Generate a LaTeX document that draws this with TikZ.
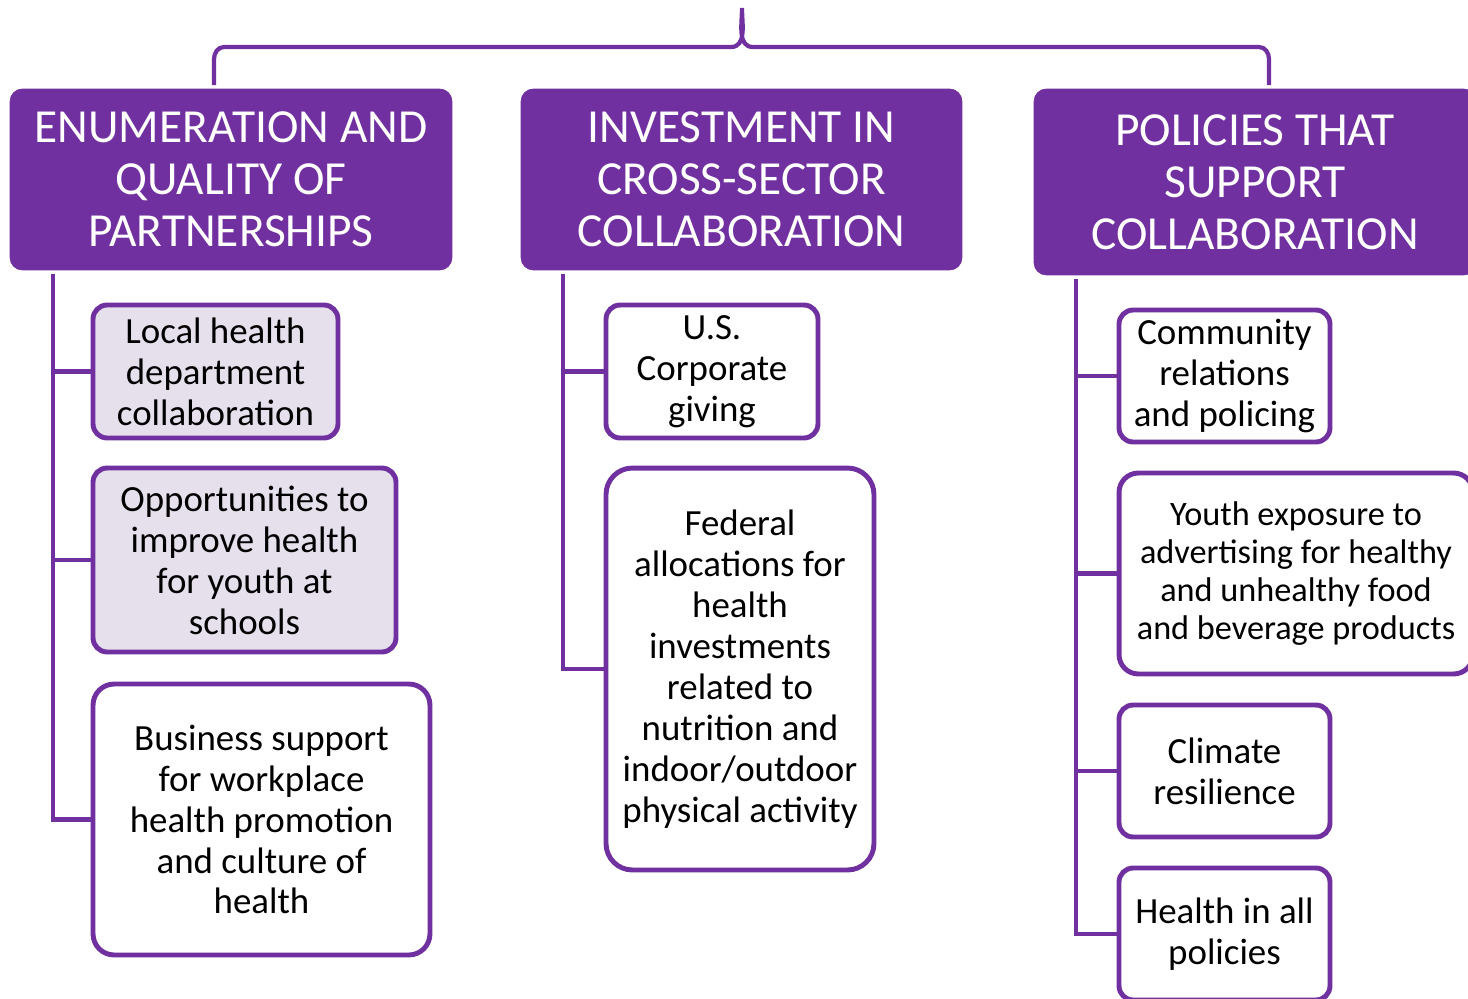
\documentclass[tikz,border=0pt]{standalone}
\usepackage{fontspec}
\setmainfont{Carlito}
\definecolor{grape}{HTML}{7030A0}
\definecolor{lilac}{HTML}{E6E0EC}

\begin{document}
\begin{tikzpicture}[
            x=0.02cm, y=-0.02cm,
            header/.style={draw=grape, fill=grape, text=white, rounded corners=7pt, align=center, inner sep=0pt, font=\fontsize{27}{29.6}\selectfont},
            item/.style={draw=grape, line width=2.8pt, fill=white, rounded corners=8pt, align=center, inner sep=0pt, font=\fontsize{21}{23.3}\selectfont},
            shaded/.style={item, fill=lilac},
            link/.style={draw=grape, line width=2.8pt}
        ]
        \useasboundingbox (0,0) rectangle (1468,998);
        \clip (0,0) rectangle (1468,998);

        % Headers
        \node[header, minimum width=8.84cm, minimum height=3.62cm] (enum) at (231,179.5) {ENUMERATION AND\\QUALITY OF\\PARTNERSHIPS};
        \node[header, minimum width=8.82cm, minimum height=3.62cm] (invest) at (741.5,179.5) {INVESTMENT IN\\CROSS-SECTOR\\COLLABORATION};
        \node[header, minimum width=8.84cm, minimum height=3.72cm] (policy) at (1255,182) {POLICIES THAT\\SUPPORT\\COLLABORATION};

        % Brace over the headers
        \coordinate (braceL) at (214,85);
        \coordinate (braceTip) at (742,8);
        \coordinate (braceR) at (1269,85);
        \draw[link, line width=2.4pt] (braceL) -- ++(0,-26) to[out=90, in=180] ++(10,-12) -- (731,47)
            to[out=0, in=-90] (braceTip) to[out=-90, in=180] (753,47) -- (1259,47)
            to[out=0, in=90] (1269,59) -- (braceR);

        % First column
        \node[shaded, minimum width=4.9cm, minimum height=2.66cm] (lhd) at (215.5,371.5) {Local health\\department\\collaboration};
        \node[shaded, minimum width=6.06cm, minimum height=3.68cm] (school) at (244.5,560) {Opportunities to\\improve health\\for youth at\\schools};
        \node[item, minimum width=6.74cm, minimum height=5.42cm, rounded corners=12pt] (biz) at (261.5,819.5) {Business support\\for workplace\\health promotion\\and culture of\\health};

        \coordinate (enumTrunk) at (53,274);
        \draw[link] (enumTrunk) |- (lhd.west);
        \draw[link] (enumTrunk) |- (school.west);
        \draw[link] (enumTrunk) |- (biz.west);

        % Second column
        \node[item, minimum width=4.24cm, minimum height=2.66cm] (corp) at (712,371.5) {U.S.\\Corporate\\giving};
        \node[item, minimum width=5.36cm, minimum height=8.04cm, rounded corners=15pt] (federal) at (740,669) {Federal\\allocations for\\health\\investments\\related to\\nutrition and\\indoor/outdoor\\physical activity};

        \coordinate (investTrunk) at (563,274);
        \draw[link] (investTrunk) |- (corp.west);
        \draw[link] (investTrunk) |- (federal.west);

        % Third column
        \node[item, minimum width=4.22cm, minimum height=2.64cm] (police) at (1224.5,376) {Community\\relations\\and policing};
        \node[item, minimum width=7.08cm, minimum height=4.02cm, rounded corners=11pt, font=\fontsize{19.5}{21.6}\selectfont] (advert) at (1296,573.5) {Youth exposure to\\advertising for healthy\\and unhealthy food\\and beverage products};
        \node[item, minimum width=4.22cm, minimum height=2.64cm] (climate) at (1224.5,771) {Climate\\resilience};
        \node[item, minimum width=4.22cm, minimum height=2.64cm] (hiap) at (1224.5,934) {Health in all\\policies};

        \coordinate (policyTrunk) at (1076,279);
        \draw[link] (policyTrunk) |- (police.west);
        \draw[link] (policyTrunk) |- (advert.west);
        \draw[link] (policyTrunk) |- (climate.west);
        \draw[link] (policyTrunk) |- (hiap.west);

        \end{tikzpicture}
\end{document}
